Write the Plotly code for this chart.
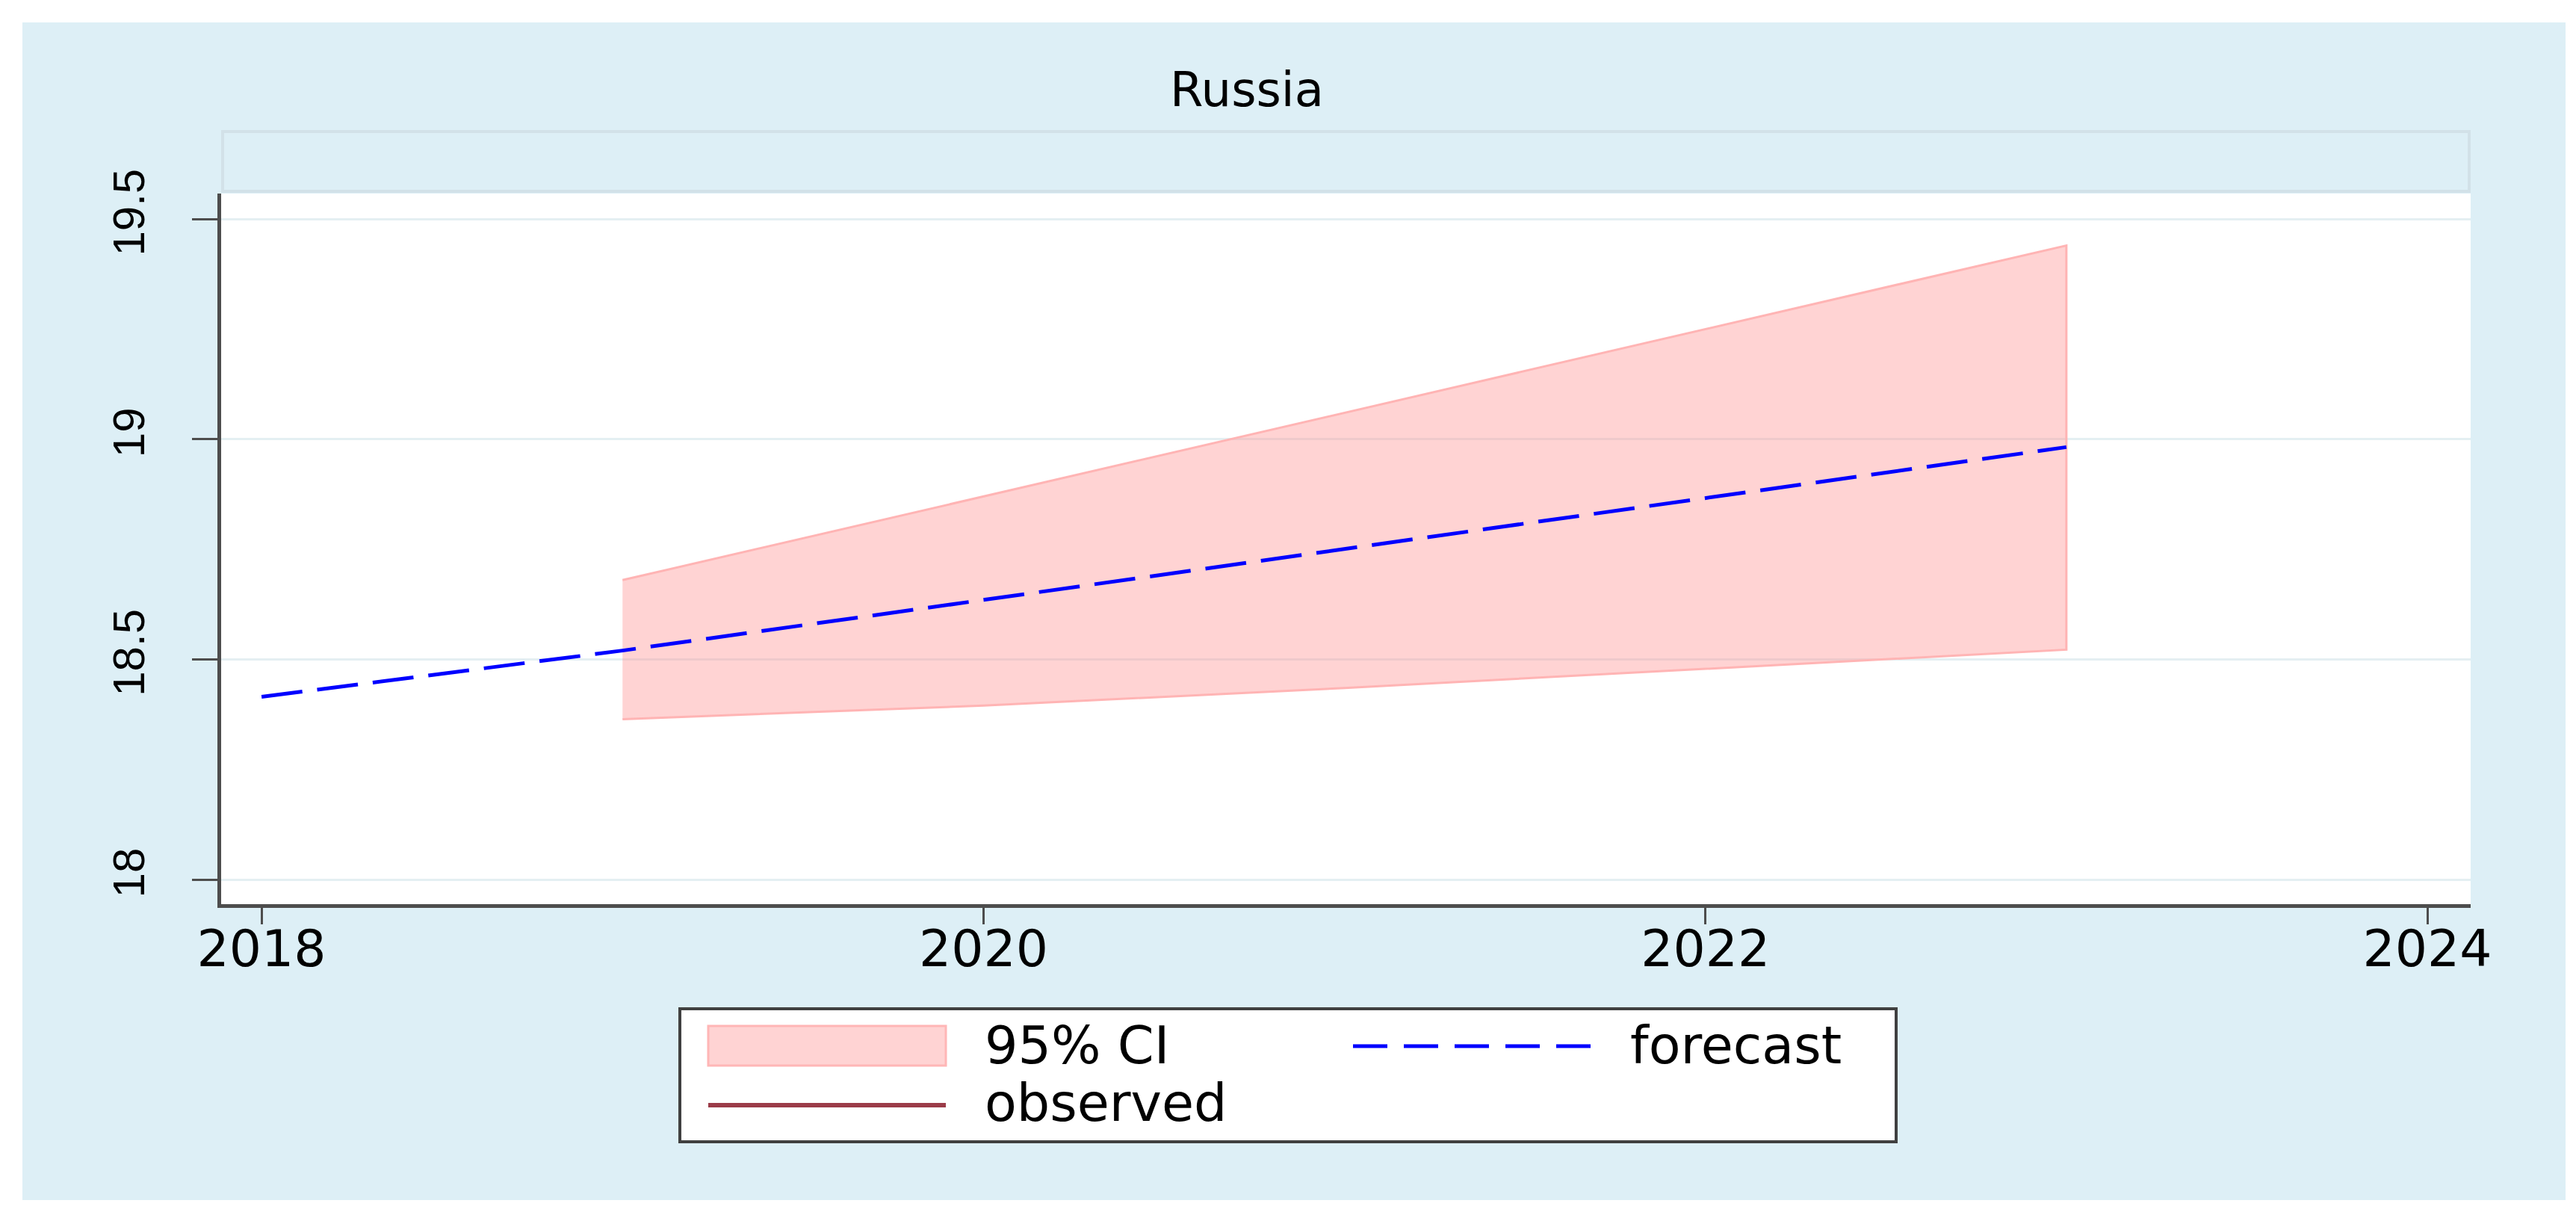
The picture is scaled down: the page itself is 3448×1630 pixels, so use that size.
import plotly.graph_objects as go

# ---- data ----
years_fc = [2018, 2019, 2020, 2021, 2022, 2023]
forecast = [18.415, 18.52, 18.635, 18.75, 18.865, 18.982]
years_ci = [2019, 2020, 2021, 2022, 2023]
ci_upper = [18.68, 18.87, 19.06, 19.25, 19.44]
ci_lower = [18.364, 18.395, 18.435, 18.478, 18.522]
x_ticks = [2018, 2020, 2022, 2024]
y_ticks = [18, 18.5, 19, 19.5]
y_tick_labels = ["18", "18.5", "19", "19.5"]
title_text = "Russia"
legend_labels = ["95% CI", "forecast", "observed"]

# ---- layout geometry (pixels) ----
W, H = 3448, 1630
L, R, T, B = 288, 3299, 251, 1202
pw, ph = R - L, B - T


def px(x):
    return (x - L) / pw


def py(y):
    return (B - y) / ph


BG = "#ddeff6"
AXC = "#4d4d4d"
FONT_W = "DejaVu Sans"
FONT_N = "Liberation Sans"

fig = go.Figure()

fig.add_trace(go.Scatter(
    x=years_ci + years_ci[::-1],
    y=ci_upper + ci_lower[::-1],
    fill="toself",
    fillcolor="rgba(255,140,140,0.38)",
    line=dict(color="#ffb4b4", width=3),
    mode="lines",
    showlegend=False,
    hoverinfo="skip",
))
fig.add_trace(go.Scatter(
    x=years_fc,
    y=forecast,
    mode="lines",
    line=dict(color="#0000ff", width=5, dash="55px,20px"),
    showlegend=False,
))

shapes = [
    # outer background
    dict(type="rect", xref="paper", yref="paper", x0=px(22), x1=px(3426),
         y0=py(1598), y1=py(22), fillcolor=BG, line=dict(width=0), layer="below"),
    # plot area
    dict(type="rect", xref="paper", yref="paper", x0=0, x1=1, y0=0, y1=1,
         fillcolor="white", line=dict(width=0), layer="below"),
    # strip
    dict(type="rect", xref="paper", yref="paper", x0=px(290), x1=px(3297),
         y0=py(248), y1=py(168), fillcolor=BG, line=dict(color="#d2e1e8", width=4),
         layer="below"),
    # legend box
    dict(type="rect", xref="paper", yref="paper", x0=px(902), x1=px(2530),
         y0=py(1520), y1=py(1342), fillcolor="white", line=dict(color="#404040", width=4)),
    # legend swatch CI
    dict(type="rect", xref="paper", yref="paper", x0=px(940), x1=px(1258),
         y0=py(1418), y1=py(1365), fillcolor="#ffd3d3", line=dict(color="#ffb6b6", width=3)),
    # legend forecast line
    dict(type="line", xref="paper", yref="paper", x0=px(1803), x1=px(2124),
         y0=py(1392), y1=py(1392), line=dict(color="#0000ff", width=5, dash="46px,22px")),
    # legend observed line
    dict(type="line", xref="paper", yref="paper", x0=px(940), x1=px(1258),
         y0=py(1471), y1=py(1471), line=dict(color="#9b3b48", width=6)),
]

annotations = [
    dict(text=title_text, xref="paper", yref="paper", x=px(1661), y=py(112),
         xanchor="center", yanchor="middle", showarrow=False,
         font=dict(family=FONT_W, size=64, color="black")),
    dict(text=legend_labels[0], xref="paper", yref="paper", x=px(1308), y=py(1391),
         xanchor="left", yanchor="middle", showarrow=False,
         font=dict(family=FONT_W, size=70, color="black")),
    dict(text=legend_labels[1], xref="paper", yref="paper", x=px(2172), y=py(1391),
         xanchor="left", yanchor="middle", showarrow=False,
         font=dict(family=FONT_W, size=70, color="black")),
    dict(text=legend_labels[2], xref="paper", yref="paper", x=px(1308), y=py(1468),
         xanchor="left", yanchor="middle", showarrow=False,
         font=dict(family=FONT_W, size=70, color="black")),
]

fig.update_layout(
    width=W, height=H,
    margin=dict(l=L, r=W - R, t=T, b=H - B, pad=0),
    paper_bgcolor="white",
    plot_bgcolor="rgba(0,0,0,0)",
    showlegend=False,
    shapes=shapes,
    annotations=annotations,
    xaxis=dict(
        range=[2017.888, 2024.12], tickvals=x_ticks, ticktext=[str(v) for v in x_ticks],
        ticks="outside", ticklen=22, tickwidth=3, tickcolor=AXC,
        showline=True, linecolor=AXC, linewidth=5,
        showgrid=False, zeroline=False,
        ticklabelstandoff=-26,
        tickfont=dict(family=FONT_W, size=68, color="black"),
    ),
    yaxis=dict(
        range=[17.944, 19.558], tickvals=y_ticks, ticktext=y_tick_labels,
        tickangle=-90,
        ticks="outside", ticklen=34, tickwidth=3, tickcolor=AXC,
        showline=True, linecolor=AXC, linewidth=5,
        showgrid=True, gridcolor="#e4eff2", gridwidth=3, zeroline=False,
        ticklabelstandoff=40,
        tickfont=dict(family=FONT_N, size=60, color="black"),
    ),
)

fig.write_html("out.html")
